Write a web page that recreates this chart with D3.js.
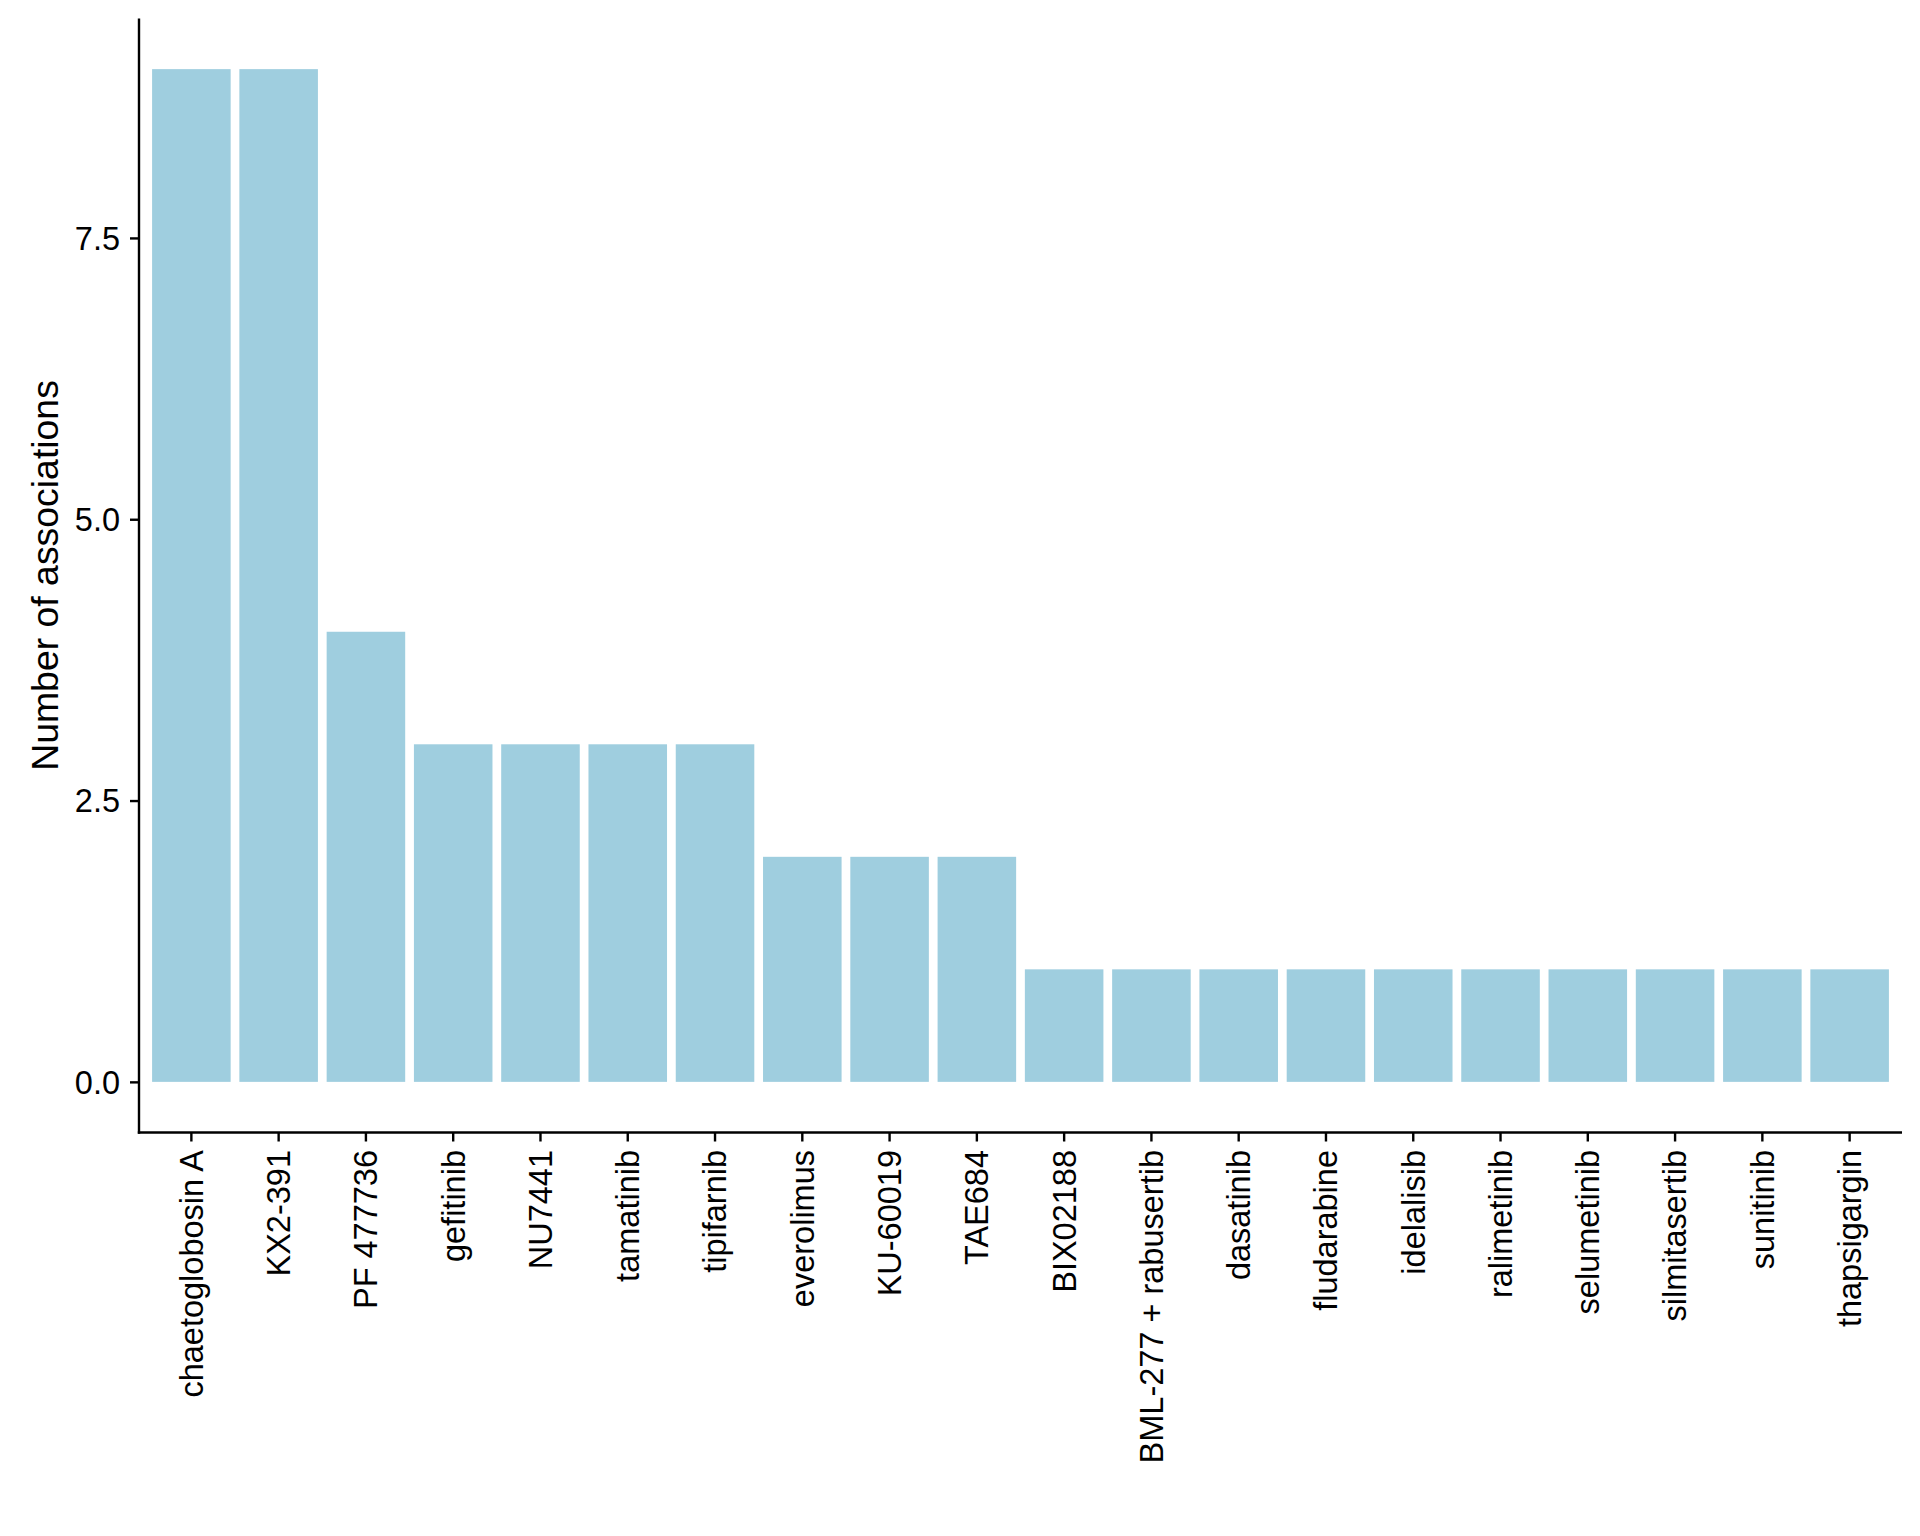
<!DOCTYPE html>
<html>
<head>
<meta charset="utf-8">
<script src="https://cdn.jsdelivr.net/npm/d3@7"></script>
<style>
  html, body { margin: 0; padding: 0; background: #ffffff; }
  svg { display: block; }
</style>
</head>
<body>
<svg id="chart" width="1920" height="1536"></svg>
<script>
const categories = ["chaetoglobosin A", "KX2-391", "PF 477736", "gefitinib", "NU7441", "tamatinib", "tipifarnib", "everolimus", "KU-60019", "TAE684", "BIX02188", "BML-277 + rabusertib", "dasatinib", "fludarabine", "idelalisib", "ralimetinib", "selumetinib", "silmitasertib", "sunitinib", "thapsigargin"];
const values = [9, 9, 4, 3, 3, 3, 3, 2, 2, 2, 1, 1, 1, 1, 1, 1, 1, 1, 1, 1];
const yTicks = [0, 2.5, 5, 7.5];
const yTickLabels = ["0.0", "2.5", "5.0", "7.5"];
const yTitle = "Number of associations";

(function () {
const svg = d3.select("#chart");
const font = "'Liberation Sans', Arial, Helvetica, sans-serif";

const pLeft = 139, pRight = 1902, pTop = 18.5, pBottom = 1132.5;

const x = d3.scaleBand().domain(categories).range([pLeft, pRight])
  .paddingInner(0.1).paddingOuter(0.15);
const y = d3.scaleLinear().domain([-0.45, 9.45]).range([pBottom, pTop]);

const data = categories.map((c, i) => ({ c, v: values[i] }));

svg.append("g").selectAll("rect").data(data).join("rect")
  .attr("x", d => x(d.c))
  .attr("width", x.bandwidth())
  .attr("y", d => y(d.v))
  .attr("height", d => y(0) - y(d.v))
  .attr("fill", "#9FCEDF");

// Y axis
const yAxis = d3.axisLeft(y).tickValues(yTicks)
  .tickFormat((d, i) => yTickLabels[i]).tickSize(9).tickPadding(10);
const gy = svg.append("g").attr("transform", `translate(${pLeft},0)`).call(yAxis);
gy.select(".domain").attr("d", `M0,${pTop}V${pBottom + 1.2}`)
  .attr("stroke", "#000").attr("stroke-width", 2.4);
gy.selectAll(".tick line").attr("stroke", "#000").attr("stroke-width", 2.4);
gy.selectAll(".tick text").attr("font-family", font).attr("font-size", 32.5)
  .attr("fill", "#000").attr("dy", "0.35em");

// X axis
const xAxis = d3.axisBottom(x).tickSize(9).tickPadding(0);
const gx = svg.append("g").attr("transform", `translate(0,${pBottom})`).call(xAxis);
gx.select(".domain").attr("d", `M${pLeft - 1.2},0H${pRight}`)
  .attr("stroke", "#000").attr("stroke-width", 2.4);
gx.selectAll(".tick line").attr("stroke", "#000").attr("stroke-width", 2.4);
gx.selectAll(".tick text")
  .attr("font-family", font).attr("font-size", 32.5).attr("fill", "#000")
  .attr("text-anchor", "end")
  .attr("transform", "translate(0,17.5) rotate(-90)")
  .attr("x", 0).attr("y", 0).attr("dy", "0.35em");

// Y title
svg.append("text")
  .attr("transform", `translate(58,${(pTop + pBottom) / 2}) rotate(-90)`)
  .attr("text-anchor", "middle")
  .attr("font-family", font).attr("font-size", 37.4).attr("fill", "#000")
  .text(yTitle);
})();
</script>
</body>
</html>
